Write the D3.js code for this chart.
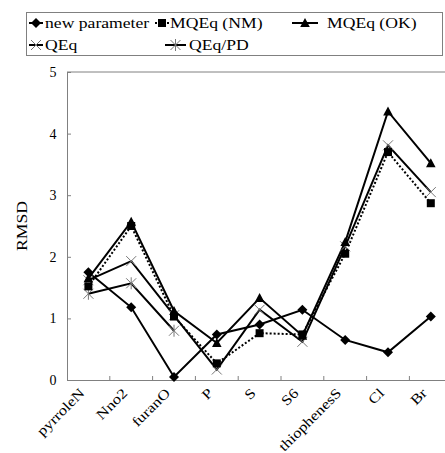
<!DOCTYPE html>
<html><head><meta charset="utf-8">
<script src="https://cdn.jsdelivr.net/npm/d3@7"></script>
<style>body{margin:0;background:#fff}svg{display:block}text{font-family:"Liberation Serif","Times New Roman",serif;fill:#000}</style>
</head><body><div id="c"></div>
<script>
const categories = ["pyrroleN","Nno2","furanO","P","S","S6","thiophenesS","Cl","Br"];
const newParameter = [1.75,1.18,0.05,0.74,0.90,1.14,0.65,0.45,1.03];
const mqeqNM = [1.52,2.50,1.03,0.27,0.76,0.74,2.05,3.70,2.87];
const mqeqOK = [1.65,2.57,1.12,0.60,1.33,0.72,2.24,4.36,3.52];
const qeq = [1.62,1.93,1.05,0.17,1.14,0.62,2.17,3.81,3.05];
const qeqPD = [1.40,1.57,0.80,null,null,null,null,null,null];
const yTicks = [0,1,2,3,4,5];
const seriesNames = ["new parameter","MQEq (NM)","MQEq (OK)","QEq","QEq/PD"];

(function(){
const W=445,H=453;
const svg=d3.select("#c").append("svg").attr("width",W).attr("height",H);
const mLeft=67, mTop=72, mBottom=380, step=42.8;
const x=d3.scaleBand().domain(categories).range([mLeft,mLeft+step*categories.length]).padding(0);
const y=d3.scaleLinear().domain([0,5]).range([mBottom,mTop]);
const cx=c=>x(c)+x.bandwidth()/2;
const axisCol="#808080";
const FS="14px", SX=1.26, SXC=1.2;

svg.append("line").attr("x1",mLeft).attr("x2",W+10).attr("y1",mTop).attr("y2",mTop).attr("stroke",axisCol).attr("stroke-width",1);
const ya=svg.append("g").attr("transform",`translate(${mLeft},0)`).call(d3.axisLeft(y).tickValues(yTicks).tickSize(-4).tickPadding(14).tickFormat(d3.format("d")));
ya.attr("font-family",null);
ya.select(".domain").attr("stroke",axisCol);
ya.selectAll(".tick line").attr("stroke",axisCol);
ya.selectAll(".tick text").style("font-size","14px").attr("text-anchor","middle");
const xa=svg.append("g").attr("transform",`translate(0,${mBottom})`).call(d3.axisBottom(x).tickSize(0).tickFormat(""));
xa.select(".domain").attr("stroke",axisCol);
const bounds=categories.slice(1).map(c=>x(c));
svg.selectAll("line.bt").data(bounds).enter().append("line").attr("class","bt").attr("x1",d=>d).attr("x2",d=>d).attr("y1",mBottom).attr("y2",mBottom-4).attr("stroke",axisCol);
svg.selectAll("text.cat").data(categories).enter().append("text").attr("class","cat")
  .attr("transform",d=>`translate(${cx(d)-3},${mBottom+14}) rotate(-45) scale(${SXC},1)`)
  .attr("text-anchor","end").style("font-size",FS).text(d=>d);
svg.append("text").attr("transform",`translate(22,${(mTop+mBottom)/2}) rotate(-90) scale(${SX},1)`).attr("text-anchor","middle").attr("dy","0.35em").style("font-size",FS).text("RMSD");

function diamond(g,px,py){g.append("path").attr("d",`M${px},${py-5}L${px+5},${py}L${px},${py+5}L${px-5},${py}Z`).attr("fill","#000");}
function square(g,px,py){g.append("rect").attr("x",px-4).attr("y",py-4).attr("width",8).attr("height",8).attr("fill","#000");}
function triangle(g,px,py){g.append("path").attr("d",`M${px},${py-5}L${px+4.8},${py+4}L${px-4.8},${py+4}Z`).attr("fill","#000");}
function cross(g,px,py){g.append("path").attr("d",`M${px-5},${py-5}L${px+5},${py+5}M${px-5},${py+5}L${px+5},${py-5}`).attr("stroke","#777").attr("stroke-width",1).attr("fill","none");}
function star(g,px,py){g.append("path").attr("d",`M${px-5},${py-5}L${px+5},${py+5}M${px-5},${py+5}L${px+5},${py-5}M${px},${py-6}L${px},${py+6}`).attr("stroke","#777").attr("stroke-width",1).attr("fill","none");}

const series=[
 {vals:qeqPD,mk:star,dash:null,w:2},
 {vals:qeq,mk:cross,dash:null,w:2},
 {vals:mqeqNM,mk:square,dash:"2,2",w:2},
 {vals:mqeqOK,mk:triangle,dash:null,w:2},
 {vals:newParameter,mk:diamond,dash:null,w:2},
];
const plot=svg.append("g");
series.forEach(s=>{
  const pts=categories.map((c,i)=>({c,v:s.vals[i]}));
  const line=d3.line().defined(d=>d.v!=null).x(d=>cx(d.c)).y(d=>y(d.v));
  plot.append("path").datum(pts).attr("d",line).attr("fill","none").attr("stroke","#000").attr("stroke-width",s.w).attr("stroke-dasharray",s.dash);
});
series.forEach(s=>{
  categories.forEach((c,i)=>{ if(s.vals[i]!=null) s.mk(plot,cx(c),y(s.vals[i])); });
});

const lg=svg.append("g");
lg.append("rect").attr("x",26.5).attr("y",12.5).attr("width",416).attr("height",43).attr("fill","#fff").attr("stroke",axisCol);
const items=[
 {name:seriesNames[0],mk:diamond,dash:null,x1:29,x2:43,tx:45,ty:23},
 {name:seriesNames[1],mk:square,dash:"2,2",x1:155,x2:169,tx:170,ty:23},
 {name:seriesNames[2],mk:triangle,dash:null,x1:292,x2:318,tx:327,ty:23},
 {name:seriesNames[3],mk:cross,dash:null,x1:29,x2:43,tx:45,ty:45},
 {name:seriesNames[4],mk:star,dash:null,x1:165,x2:186,tx:189,ty:45},
];
items.forEach(it=>{
  lg.append("line").attr("x1",it.x1).attr("x2",it.x2).attr("y1",it.ty).attr("y2",it.ty).attr("stroke","#000").attr("stroke-width",2).attr("stroke-dasharray",it.dash);
  it.mk(lg,(it.x1+it.x2)/2,it.ty);
  lg.append("text").attr("transform",`translate(${it.tx},${it.ty}) scale(${SX},1)`).attr("dy","0.35em").style("font-size",FS).text(it.name);
});
})();
</script></body></html>
